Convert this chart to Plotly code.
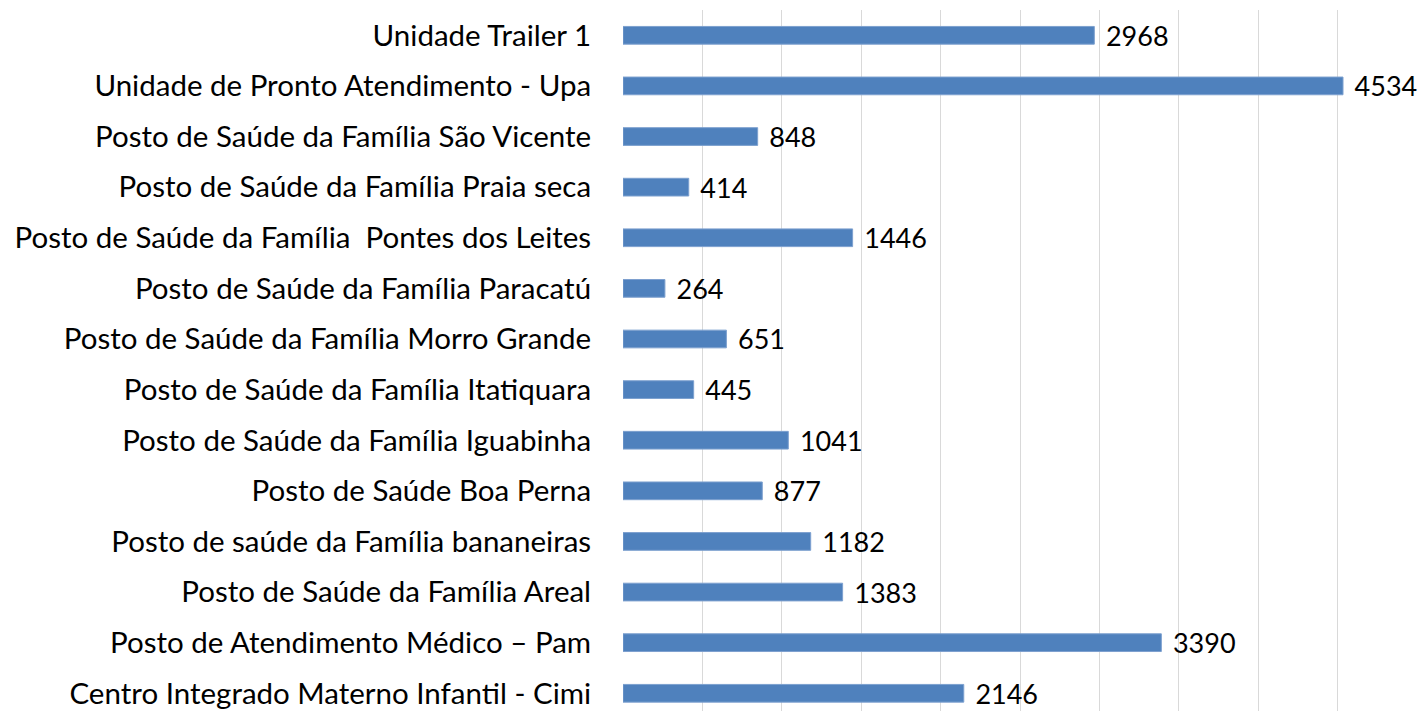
import plotly.graph_objects as go

# categorias de baixo para cima
UNIDADES = [
    "Centro Integrado Materno Infantil - Cimi",
    "Posto de Atendimento Médico – Pam",
    "Posto de Saúde da Família Areal",
    "Posto de saúde da Família bananeiras",
    "Posto de Saúde Boa Perna",
    "Posto de Saúde da Família Iguabinha",
    "Posto de Saúde da Família Itatiquara",
    "Posto de Saúde da Família Morro Grande",
    "Posto de Saúde da Família Paracatú",
    "Posto de Saúde da Família\u00a0 Pontes dos Leites",
    "Posto de Saúde da Família Praia seca",
    "Posto de Saúde da Família São Vicente",
    "Unidade de Pronto Atendimento - Upa",
    "Unidade Trailer 1",
]
ATENDIMENTOS = [2146, 3390, 1383, 1182, 877, 1041, 445, 651, 264, 1446, 414, 848, 4534, 2968]

BAR_COLOR = "#4F81BD"
FONTE = "Lato"

fig = go.Figure()
fig.add_trace(
    go.Bar(
        y=UNIDADES,
        x=ATENDIMENTOS,
        orientation="h",
        width=0.35,
        marker=dict(color=BAR_COLOR, line=dict(color="#7DA0CF", width=1)),
        text=ATENDIMENTOS,
        texttemplate="\u00a0\u200a%{text}",
        textposition="outside",
        constraintext="none",
        cliponaxis=False,
        textfont=dict(family=FONTE, size=27, color="#000000"),
    )
)
fig.update_layout(
    width=1411,
    height=703,
    plot_bgcolor="white",
    paper_bgcolor="white",
    showlegend=False,
    margin=dict(l=615, r=2, t=2, b=0),
    xaxis=dict(
        range=[0, 5000],
        dtick=500,
        showgrid=True,
        gridcolor="#D9D9D9",
        gridwidth=1.3,
        showticklabels=False,
        zeroline=False,
    ),
    yaxis=dict(
        range=[-0.35, 13.5],
        tickfont=dict(family=FONTE, size=29.5, color="#000000"),
        ticks="outside",
        ticklen=25,
        tickcolor="rgba(0,0,0,0)",
        showgrid=False,
        automargin=False,
    ),
)
fig.write_html("out.html")
